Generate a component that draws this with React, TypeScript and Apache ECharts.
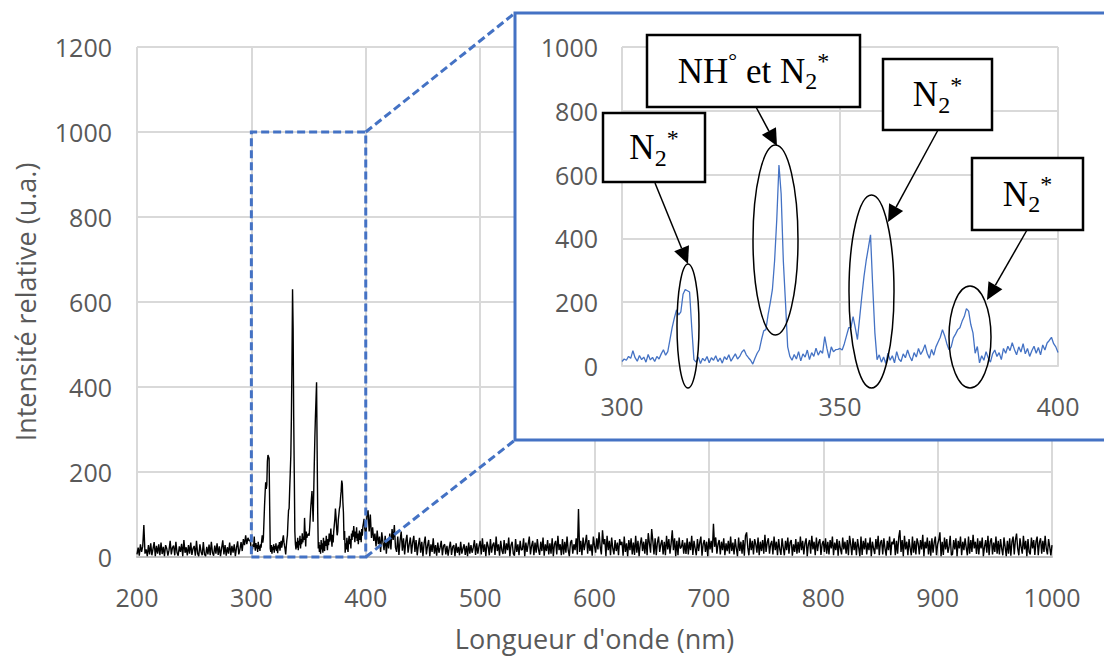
import React, { useEffect, useRef } from "react";
import * as echarts from "echarts";

// Spectrum 200–299 nm (1 nm step)
const specA = [
  6, 22, 3, 30, 12, 25, 75, 8, 18, 2,
  28, 6, 32, 4, 19, 35, 2, 26, 8, 30,
  4, 34, 7, 24, 2, 28, 20, 3, 16, 38,
  6, 22, 27, 4, 36, 10, 3, 25, 12, 31,
  2, 40, 10, 23, 4, 28, 8, 34, 5, 20,
  26, 3, 38, 8, 2, 30, 12, 4, 35, 6,
  2, 24, 6, 29, 4, 36, 10, 3, 27, 8,
  32, 5, 25, 2, 21, 39, 6, 28, 3, 23,
  8, 34, 4, 26, 10, 30, 2, 22, 37, 6,
  18, 35, 14, 42, 28, 51, 30, 45, 38, 40,
];

// Spectrum 300–400 nm (0.5 nm step) — zoomed region
const specB = [
  14, 22, 18, 30, 24, 48, 26, 15, 33, 20,
  28, 12, 36, 19, 27, 14, 30, 22, 38, 51,
  34, 45, 83, 120, 150, 176, 160, 170, 225, 240,
  236, 232, 120, 20, 12, 28, 8, 24, 16, 30,
  10, 26, 18, 32, 14, 25, 9, 29, 20, 35,
  15, 27, 38, 22, 30, 44, 51, 35, 26, 18,
  6, 24, 40, 51, 83, 110, 114, 160, 198, 240,
  330, 460, 630, 540, 330, 198, 60, 30, 18, 36,
  22, 45, 16, 38, 28, 50, 20, 42, 30, 56,
  34, 48, 40, 92, 55, 25, 60, 45, 51, 52,
  55, 50, 70, 95, 120, 120, 155, 120, 83, 150,
  218, 280, 330, 370, 411, 250, 104, 20, 35, 12,
  28, 8, 40, 18, 32, 10, 45, 22, 14, 38,
  26, 50, 30, 16, 42, 28, 55, 36, 48, 67,
  40, 24, 52, 34, 60, 75, 90, 114, 95, 70,
  51, 60, 88, 100, 114, 120, 140, 155, 180, 172,
  130, 104, 40, 61, 10, 32, 18, 45, 25, 12,
  38, 50, 30, 42, 20, 55, 40, 62, 48, 73,
  52, 35, 60, 44, 70, 38, 55, 30, 48, 62,
  40, 58, 35, 66, 50, 72, 80, 90, 70, 60,
  42,
];

// Spectrum 401–1000 nm (1 nm step)
const specC = [
  95, 110, 60, 100, 45, 70, 38, 55, 25, 62, 30, 48, 12, 58, 35, 16, 50, 8, 42, 20,
  55, 18, 66, 40, 75, 22, 12, 48, 5, 38, 60, 15, 44, 6, 36, 52, 10, 30, 46, 8,
  34, 50, 12, 40, 4, 28, 45, 10, 36, 2, 32, 48, 6, 26, 40, 2, 30, 12, 44, 8,
  28, 3, 34, 10, 22, 38, 4, 26, 30, 6, 26, 3, 22, 36, 5, 24, 28, 2, 32, 10,
  24, 4, 36, 8, 20, 30, 5, 26, 2, 34, 8, 28, 10, 22, 40, 5, 32, 8, 25, 38,
  6, 44, 12, 30, 2, 36, 25, 4, 42, 10, 28, 34, 5, 48, 14, 30, 3, 38, 16, 7,
  40, 8, 32, 16, 46, 2, 28, 36, 8, 3, 42, 12, 30, 4, 38, 16, 18, 44, 2, 34,
  12, 30, 48, 6, 26, 38, 4, 34, 10, 42, 18, 5, 36, 14, 46, 3, 30, 14, 40, 6,
  32, 8, 44, 2, 30, 38, 6, 50, 16, 30, 4, 42, 6, 36, 10, 48, 16, 2, 34, 40,
  8, 30, 16, 44, 6, 113, 12, 38, 4, 46, 16, 34, 52, 8, 40, 14, 30, 3, 48, 26,
  10, 44, 18, 58, 24, 6, 63, 30, 42, 2, 50, 16, 38, 4, 46, 20, 6, 40, 14, 34,
  4, 42, 28, 36, 3, 48, 12, 32, 2, 40, 16, 44, 6, 34, 5, 50, 10, 38, 2, 30,
  46, 14, 36, 8, 42, 4, 56, 32, 10, 66, 38, 6, 44, 4, 34, 48, 12, 30, 40, 6,
  36, 4, 50, 18, 42, 8, 32, 63, 16, 44, 2, 38, 4, 46, 20, 24, 40, 8, 34, 7,
  44, 6, 36, 16, 50, 5, 38, 20, 4, 42, 14, 34, 48, 3, 30, 40, 12, 36, 2, 44,
  18, 38, 10, 78, 24, 46, 8, 30, 40, 6, 36, 16, 44, 4, 32, 14, 38, 8, 48, 14,
  34, 6, 42, 20, 2, 46, 14, 36, 8, 40, 3, 50, 58, 22, 4, 44, 16, 38, 6, 42,
  30, 10, 46, 4, 36, 14, 40, 8, 52, 12, 34, 44, 8, 30, 38, 6, 48, 16, 36, 4,
  42, 18, 5, 44, 22, 4, 38, 16, 46, 8, 34, 40, 3, 30, 12, 42, 8, 36, 10, 48,
  16, 38, 6, 32, 44, 2, 30, 40, 8, 50, 18, 36, 4, 46, 14, 34, 42, 5, 30, 38,
  12, 44, 8, 36, 6, 40, 20, 48, 4, 34, 16, 42, 3, 38, 20, 6, 46, 18, 36, 8,
  40, 4, 50, 30, 4, 44, 16, 36, 4, 42, 22, 2, 48, 5, 38, 18, 44, 6, 34, 16,
  46, 2, 36, 20, 7, 42, 18, 50, 4, 34, 40, 6, 44, 20, 3, 38, 16, 48, 4, 36,
  30, 44, 4, 38, 8, 46, 63, 12, 40, 2, 50, 18, 36, 4, 42, 20, 4, 48, 10, 38,
  6, 44, 32, 6, 40, 18, 52, 2, 36, 20, 46, 6, 38, 3, 44, 10, 34, 48, 4, 30,
  40, 58, 2, 36, 5, 46, 18, 42, 10, 24, 50, 4, 6, 40, 18, 44, 2, 38, 20, 48,
  4, 36, 16, 44, 22, 4, 48, 8, 40, 12, 52, 20, 36, 7, 44, 6, 38, 20, 46, 2,
  24, 40, 10, 50, 4, 36, 44, 6, 34, 12, 48, 8, 38, 6, 42, 20, 4, 46, 24, 2,
  38, 8, 44, 3, 36, 48, 6, 40, 55, 20, 4, 44, 24, 8, 50, 18, 38, 2, 42, 12,
  6, 46, 20, 40, 5, 36, 48, 4, 34, 44, 8, 38, 12, 50, 20, 6, 42, 24, 4, 28,
];

const zoomX = [300, 400];
const zoomY = [0, 1000];

const mainData = [
  ...specA.map((v, i) => [200 + i, v]),
  ...specB.map((v, i) => [300 + i * 0.5, v]),
  ...specC.map((v, i) => [401 + i, v]),
];
const insetData = specB.map((v, i) => [300 + i * 0.5, v]);

const BLUE = "#4472C4";
const GREY_TXT = "#595959";
const GRID = "#d9d9d9";
const SANS = "Open Sans";
const SERIF = "Liberation Serif";

const rich = {
  n: { fontFamily: SERIF, fontSize: 35, lineHeight: 44, color: "#000", verticalAlign: "middle" },
  deg: { fontFamily: SERIF, fontSize: 22, lineHeight: 30, color: "#000", verticalAlign: "top" },
  sub: { fontFamily: SERIF, fontSize: 24, lineHeight: 22, color: "#000", verticalAlign: "bottom" },
  sup: { fontFamily: SERIF, fontSize: 24, lineHeight: 34, color: "#000", verticalAlign: "top" },
};

const annotations = [
  { box: [603, 113, 102, 69], text: "{n|N}{sub|2}{sup|*}", arrow: [655, 183, 688, 264], ell: [688, 326, 11, 62] },
  { box: [647, 35, 213, 72], text: "{n|NH}{deg|°}{n| et N}{sub|2}{sup|*}", arrow: [756, 107, 777, 146], ell: [775.5, 240, 22.5, 95] },
  { box: [883, 59, 109, 71], text: "{n|N}{sub|2}{sup|*}", arrow: [938, 130, 888, 222], ell: [871.5, 291.5, 22.5, 96.5] },
  { box: [972, 158, 111, 72], text: "{n|N}{sub|2}{sup|*}", arrow: [1027, 230, 987, 300], ell: [970, 337, 21, 51] },
];

function arrowEls(a: number[]) {
  const [x1, y1, x2, y2] = a;
  const dx = x2 - x1, dy = y2 - y1;
  const L = Math.hypot(dx, dy);
  const ux = dx / L, uy = dy / L;
  const len = 17, half = 8;
  const bx = x2 - ux * len, by = y2 - uy * len;
  const px = -uy, py = ux;
  return [
    { type: "line", z: 40, shape: { x1, y1, x2: bx, y2: by }, style: { stroke: "#000", lineWidth: 1.5 } },
    {
      type: "polygon", z: 40,
      shape: { points: [[x2, y2], [bx + px * half, by + py * half], [bx - px * half, by - py * half]] },
      style: { fill: "#000" },
    },
  ];
}

const plain = (v: number) => String(v);
const axisLabel = { color: GREY_TXT, fontSize: 25, fontFamily: SANS, formatter: plain };
const splitLine = { show: true, lineStyle: { color: GRID, width: 2 } };

export default function App() {
  const ref = useRef<HTMLDivElement>(null);
  useEffect(() => {
    const chart = echarts.init(ref.current!, null, { renderer: "svg" });
    chart.setOption({
      animation: false,
      grid: [
        { left: 137, top: 47, width: 915, height: 513 },
        { left: 622, top: 47, width: 436, height: 319 },
      ],
      xAxis: [
        {
          type: "value", gridIndex: 0, min: 200, max: 1000, interval: 100,
          axisLine: { show: true, lineStyle: { color: "#bfbfbf", width: 2 } },
          axisTick: { show: false },
          axisLabel: { ...axisLabel, margin: 27 },
          splitLine,
          name: "Longueur d'onde (nm)", nameLocation: "middle", nameGap: 68,
          nameTextStyle: { color: GREY_TXT, fontSize: 27, fontFamily: SANS },
        },
        {
          type: "value", gridIndex: 1, min: zoomX[0], max: zoomX[1], interval: 50, z: 20,
          axisLine: { show: true, lineStyle: { color: GRID, width: 2 } },
          axisTick: { show: false },
          axisLabel: { ...axisLabel, margin: 27 },
          splitLine,
        },
      ],
      yAxis: [
        {
          type: "value", gridIndex: 0, min: 0, max: 1200, interval: 200,
          axisLine: { show: false }, axisTick: { show: false },
          axisLabel: { ...axisLabel, margin: 25 },
          splitLine,
          name: "Intensité relative (u.a.)", nameLocation: "middle", nameGap: 98,
          nameTextStyle: { color: GREY_TXT, fontSize: 27, fontFamily: SANS },
        },
        {
          type: "value", gridIndex: 1, min: zoomY[0], max: zoomY[1], interval: 200, z: 20,
          axisLine: { show: false }, axisTick: { show: false },
          axisLabel: { ...axisLabel, margin: 24 },
          splitLine,
        },
      ],
      series: [
        {
          type: "line", xAxisIndex: 0, yAxisIndex: 0, data: mainData, showSymbol: false, z: 2,
          lineStyle: { color: "#000", width: 1.4 }, silent: true,
          markArea: {
            silent: true, z: 3,
            itemStyle: { color: "rgba(0,0,0,0)", borderColor: BLUE, borderWidth: 3, borderType: [8, 4] },
            data: [[{ coord: [zoomX[0], zoomY[0]] }, { coord: [zoomX[1], zoomY[1]] }]],
          },
        },
        {
          type: "line", xAxisIndex: 1, yAxisIndex: 1, data: insetData, showSymbol: false, z: 30,
          lineStyle: { color: BLUE, width: 1.3 }, silent: true,
        },
      ],
    });

    const pTop = chart.convertToPixel({ gridIndex: 0 }, [zoomX[1], zoomY[1]]) as number[];
    const pBot = chart.convertToPixel({ gridIndex: 0 }, [zoomX[1], zoomY[0]]) as number[];
    const boxL = 515, boxT = 13, boxB = 440;
    const dash = { stroke: BLUE, lineWidth: 3, lineDash: [8, 4] };

    const graphic: any[] = [
      {
        type: "rect", z: 10,
        shape: { x: boxL, y: boxT, width: 640, height: boxB - boxT },
        style: { fill: "#fff", stroke: BLUE, lineWidth: 3 },
      },
      { type: "line", z: 40, shape: { x1: pTop[0], y1: pTop[1], x2: boxL, y2: boxT }, style: dash },
      { type: "line", z: 40, shape: { x1: pBot[0], y1: pBot[1], x2: boxL, y2: boxB }, style: dash },
    ];
    annotations.forEach((a) => {
      const [bx, by, bw, bh] = a.box;
      graphic.push({
        type: "rect", z: 40, shape: { x: bx, y: by, width: bw, height: bh },
        style: { fill: "#fff", stroke: "#000", lineWidth: 2.5 },
      });
      graphic.push({
        type: "text", z: 41, x: bx + bw / 2, y: by + bh / 2,
        style: { text: a.text, rich, align: "center", verticalAlign: "middle" },
      });
      graphic.push(...arrowEls(a.arrow));
      graphic.push({
        type: "ellipse", z: 40,
        shape: { cx: a.ell[0], cy: a.ell[1], rx: a.ell[2], ry: a.ell[3] },
        style: { fill: "none", stroke: "#000", lineWidth: 1.5 },
      });
    });
    chart.setOption({ graphic });
    return () => chart.dispose();
  }, []);
  return (
    <div
      ref={ref}
      style={{ position: "fixed", left: 0, top: 0, width: 1104, height: 657, background: "#fff" }}
    />
  );
}
